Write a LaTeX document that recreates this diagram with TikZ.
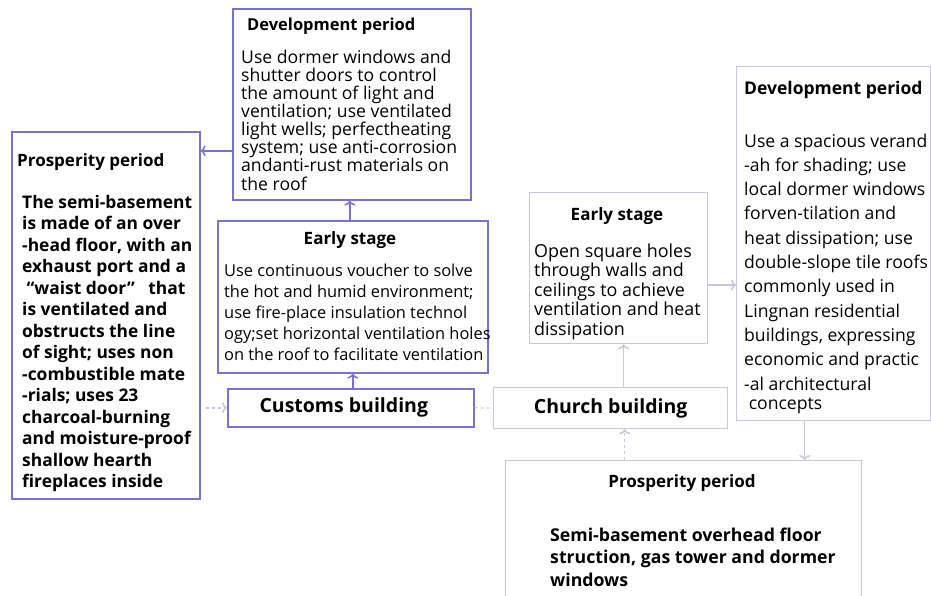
\documentclass[tikz,border=0pt]{standalone}
\usepackage{fontspec}
\setmainfont{Open Sans}
\usetikzlibrary{arrows.meta}
\definecolor{darkline}{RGB}{120,114,214}
\definecolor{lightline}{RGB}{200,198,224}
\definecolor{linkgray}{RGB}{205,205,212}
\begin{document}
\begin{tikzpicture}[x=1pt, y=-1pt,
  darkbox/.style={draw=darkline, line width=1.6pt, anchor=north west, inner sep=0pt},
  lightbox/.style={draw=lightline, line width=1.3pt, anchor=north west, inner sep=0pt},
  head/.style={font=\bfseries\fontsize{17}{18}\selectfont, inner sep=0pt},
  body/.style={align=left, anchor=base west, inner sep=0pt},
  darklink/.style={draw=darkline, line width=1.5pt, -{To[length=5pt,width=11pt]}},
  lightlink/.style={draw=lightline, line width=1.5pt, -{To[length=5pt,width=11pt]}}]
  \useasboundingbox[fill=white] (0,0) rectangle (931,596);

  % boxes
  \node[darkbox, minimum width=238pt, minimum height=191pt] (devL) at (232,8) {};
  \node[darkbox, minimum width=188pt, minimum height=367pt] (prosL) at (11,131) {};
  \node[darkbox, minimum width=270pt, minimum height=152pt] (earlyL) at (217,220) {};
  \node[darkbox, minimum width=246pt, minimum height=38pt,
        font=\bfseries\fontsize{19.5}{20}\selectfont] (customs) at (227,388) {Customs building\hspace*{14pt}};
  \node[lightbox, minimum width=234pt, minimum height=41pt,
        font=\bfseries\fontsize{19.5}{20}\selectfont] (church) at (493,387) {Church building};
  \node[lightbox, minimum width=178pt, minimum height=151pt] (earlyR) at (529,192) {};
  \node[lightbox, minimum width=194pt, minimum height=354pt] (devR) at (736,66) {};
  \node[lightbox, minimum width=356pt, minimum height=160pt] (prosR) at (505,460) {};

  % texts (body nodes sit on the baseline of their last line)
  \node[head, anchor=base west, font=\bfseries\fontsize{16.5}{18}\selectfont] (devLhead) at (247,31) {Development period};
  \node[body, font=\fontsize{17.6}{18.1}\selectfont] (devLtext) at (241,190)
    {Use dormer windows and\\shutter doors to control\\the amount of light and\\ventilation; use ventilated\\
     light wells; perfectheating\\system; use anti-corrosion\\andanti-rust materials on\\the roof};

  \node[head, anchor=base west] (prosLhead) at (17,167) {Prosperity period};
  \node[body, font=\bfseries\fontsize{17.4}{21.5}\selectfont] (prosLtext) at (22,487.5)
    {The semi-basement\\is made of an over\\-head floor, with an\\exhaust port and a\\
     \ “waist door”\ \ \ that\\is ventilated and\\obstructs the line\\of sight; uses non\\
     -combustible mate\\-rials; uses 23\\charcoal-burning\\and moisture-proof\\shallow hearth\\fireplaces inside};

  \node[head, anchor=base] (earlyLhead) at (350,244) {Early stage};
  \node[body, font=\fontsize{16.4}{20.8}\selectfont] (earlyLtext) at (224,360)
    {Use continuous voucher to solve\\the hot and humid environment;\\use fire-place insulation technol\\
     ogy;set horizontal ventilation holes\\on the roof to facilitate ventilation};

  \node[head, anchor=base] (earlyRhead) at (617,220) {Early stage};
  \node[body, font=\fontsize{17.9}{19.5}\selectfont] (earlyRtext) at (534,335)
    {Open square holes\\through walls and\\ceilings to achieve\\ventilation and heat\\dissipation};

  \node[head, anchor=base west, font=\bfseries\fontsize{17.5}{18}\selectfont] (devRhead) at (744,95) {Development period};
  \node[body, font=\fontsize{17.6}{24.3}\selectfont] (devRtext) at (744,409)
    {Use a spacious verand\\-ah for shading; use\\local dormer windows\\forven-tilation and\\
     heat dissipation; use\\double-slope tile roofs\\commonly used in\\Lingnan residential\\
     buildings, expressing\\economic and practic\\-al architectural\\[-5.3pt]\ concepts};

  \node[head, anchor=base] (prosRhead) at (682,487) {Prosperity period};
  \node[body, font=\bfseries\fontsize{17.7}{22.5}\selectfont] (prosRtext) at (550,586)
    {Semi-basement overhead floor\\struction, gas tower and dormer\\windows};

  % connectors
  \draw[darklink] ([yshift=-46.5pt]devL.west) -- ([yshift=-46.5pt]devL.west -| prosL.east);
  \draw[darklink] ([xshift=-3pt]earlyL.north) -- ([xshift=-3pt]earlyL.north |- devL.south);
  \draw[darklink] ([xshift=2pt]customs.north) -- ([xshift=2pt]customs.north |- earlyL.south);
  \draw[lightlink, dashed, shorten <=5pt] (customs.west -| prosL.east) -- (customs.west);
  \draw[draw=linkgray, line width=1.2pt, dashed] (customs.east) -- (church.west);
  \draw[lightlink] ([xshift=13pt]church.north) -- ([xshift=13pt]church.north |- earlyR.south);
  \draw[lightlink] ([yshift=-17pt]earlyR.east) -- ([yshift=-17pt]earlyR.east -| devR.west);
  \draw[lightlink] ([xshift=-29pt]devR.south) -- ([xshift=-29pt]devR.south |- prosR.north);
  \draw[lightlink, dashed] ([xshift=14pt]church.south |- prosR.north) -- ([xshift=14pt]church.south);
\end{tikzpicture}
\end{document}
